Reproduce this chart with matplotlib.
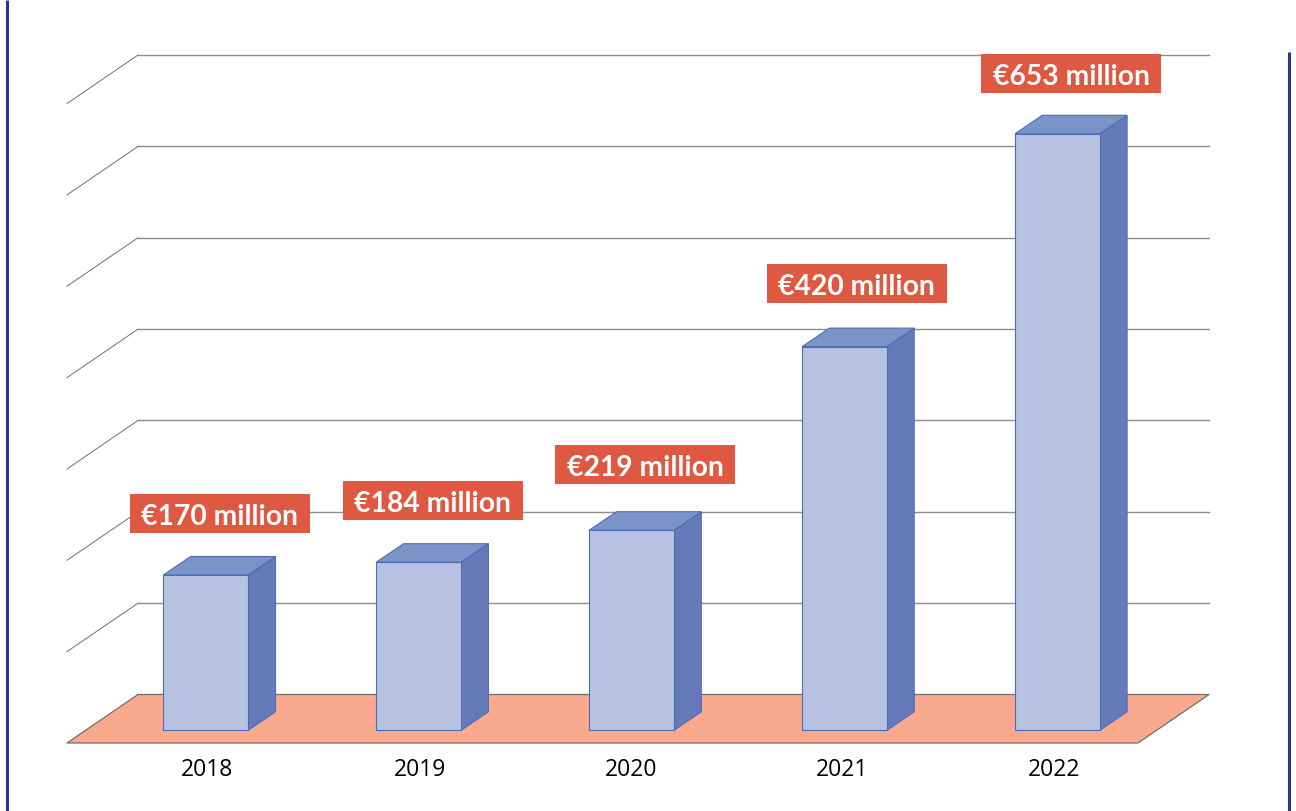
import matplotlib
matplotlib.use("Agg")
import matplotlib.pyplot as plt
from matplotlib.patches import Polygon, Rectangle

years = ["2018", "2019", "2020", "2021", "2022"]
revenue = [170, 184, 219, 420, 653]
labels = ["€170 million", "€184 million", "€219 million", "€420 million", "€653 million"]
grid_values = [100, 200, 300, 400, 500, 600, 700]

# px per category / per million, used to lay out the fake 3d box
X_PX = 212.9
Y_PX = 0.9135
W, H = 1296, 811
X0, Y0 = 205.8, 730.3  # pixel position of first bar centre on the baseline


def dx(px):
    return px / X_PX


def dy(px):
    return px / Y_PX


fig = plt.figure(figsize=(W / 100, H / 100), dpi=100, facecolor="white")
ax = fig.add_axes([0, 0, 1, 1])
ax.set_xlim(-X0 / X_PX, (W - X0) / X_PX)
ax.set_ylim(-(H - Y0) / Y_PX, Y0 / Y_PX)
ax.axis("off")

half_w = dx(42.4)
depth_x, depth_y = dx(27.3), dy(18.5)

# floor
fl, fr = dx(67 - X0), dx(1138 - X0)
front_y, back_y = dy(-12.7), dy(35.8)
floor_dx = dx(71)
ax.add_patch(Polygon([(fl, front_y), (fr, front_y), (fr + floor_dx, back_y), (fl + floor_dx, back_y)],
                     facecolor="#FAA98F", edgecolor="none", zorder=1))
ax.plot([fl + floor_dx, fl, fr, fr + floor_dx, fl + floor_dx],
        [back_y, front_y, front_y, back_y, back_y], color="#6E6E6E", lw=0.9, zorder=2)

# wall lines and the slanted ones on the side
for v in grid_values:
    gy = back_y + v
    ax.plot([fl + floor_dx, fr + floor_dx], [gy, gy], color="#8C8C8C", lw=1.0, zorder=2)
    ax.plot([fl, fl + floor_dx], [gy + front_y - back_y, gy], color="#6E6E6E", lw=0.7, zorder=2)

bar_edge = "#4A6DBB"
for i, val in enumerate(revenue):
    l, r = i - half_w, i + half_w
    ax.add_patch(Polygon([(r, 0), (r + depth_x, depth_y), (r + depth_x, val + depth_y), (r, val)],
                         facecolor="#667ABA", edgecolor=bar_edge, lw=0.8, zorder=3))
    ax.add_patch(Polygon([(l, val), (r, val), (r + depth_x, val + depth_y), (l + depth_x, val + depth_y)],
                         facecolor="#7A94C7", edgecolor=bar_edge, lw=0.8, zorder=3))
    ax.add_patch(Rectangle((l, 0), r - l, val, facecolor="#B6C2E0", edgecolor=bar_edge, lw=0.8, zorder=4))

# value tags, a little above and right of each bar
tag_dx = [14, 14, 13.5, 12, 14]
tag_dy = [62, 62, 65.5, 62.7, 60.5]
for i, val in enumerate(revenue):
    cx = i + dx(tag_dx[i])
    cy = val + dy(tag_dy[i])
    ax.add_patch(Rectangle((cx - dx(90), cy - dy(19.5)), dx(180), dy(39),
                           facecolor="#DF5842", edgecolor="none", zorder=5))
    ax.text(cx, cy - dy(1), labels[i], color="white", fontsize=20.3, fontweight="bold", family="Lato",
            ha="center", va="center_baseline", zorder=6)

# year labels sit slightly left of the bars further along
year_nudge = [1, 1, 0, -2, -3]
for i, year in enumerate(years):
    ax.text(i + dx(year_nudge[i]), dy(-39.5), year, color="black", fontsize=16.5, family="Open Sans",
            fontweight="medium", ha="center", va="center")

# page rules on both sides
rule_color = "#2A3788"
ax.plot([dx(6.5 - X0)] * 2, [dy(Y0 - H), dy(Y0)], color=rule_color, lw=2.2, zorder=7, solid_capstyle="butt")
ax.plot([dx(1289 - X0)] * 2, [dy(Y0 - H), dy(Y0 - 52)], color=rule_color, lw=2.2, zorder=7, solid_capstyle="butt")

fig.savefig("out.png", dpi=100)
